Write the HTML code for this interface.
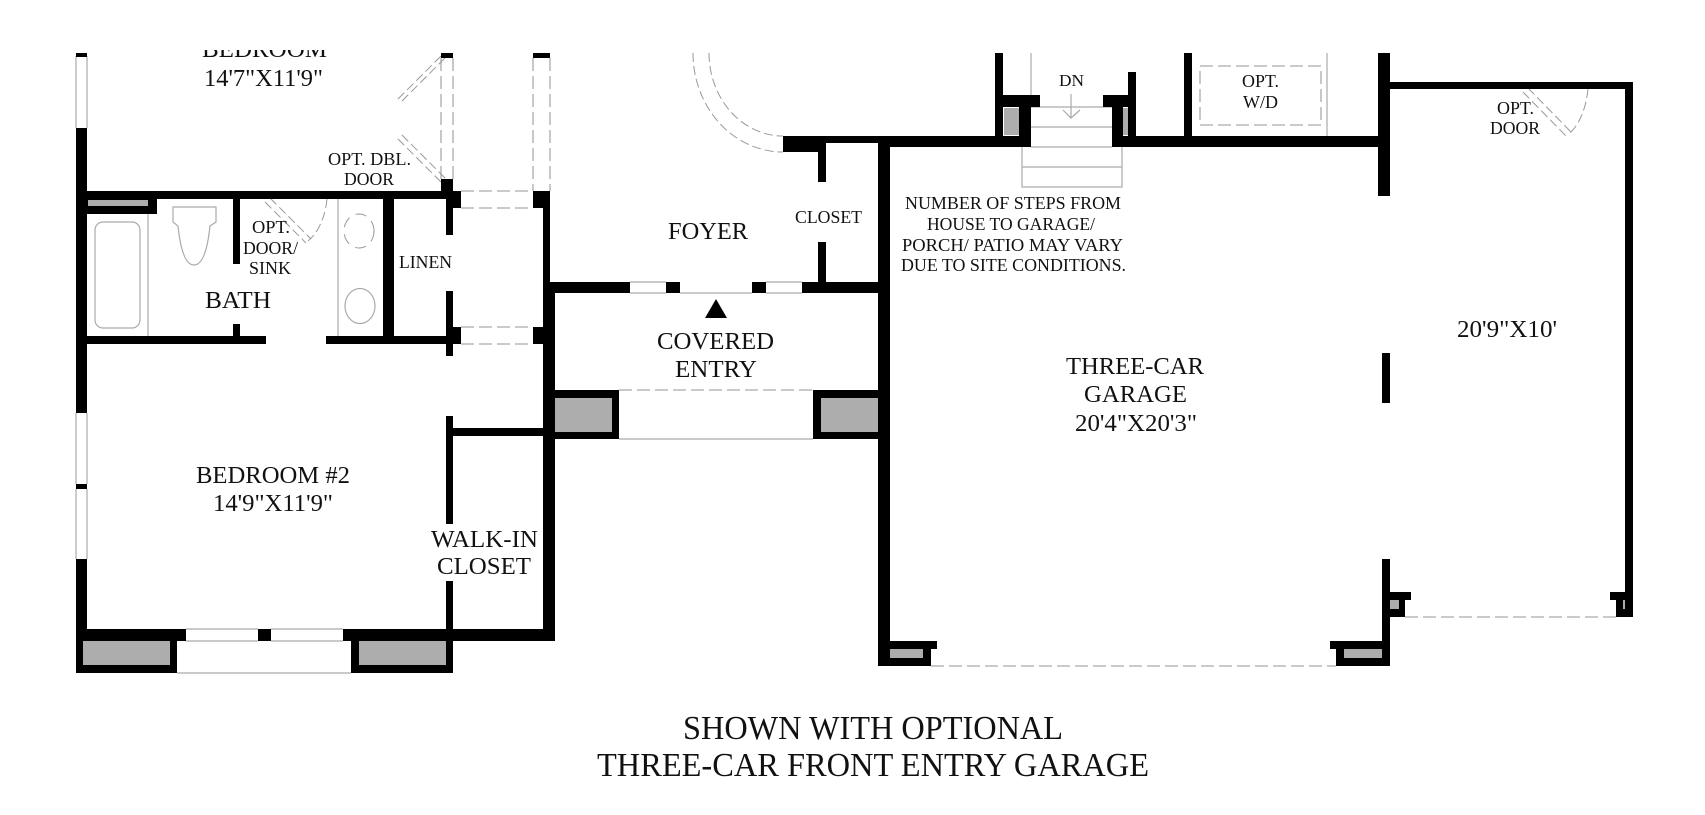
<!DOCTYPE html>
<html>
<head>
<meta charset="utf-8">
<style>
html,body{margin:0;padding:0;background:#fff;width:1705px;height:815px;overflow:hidden}
svg{display:block}
text{font-family:"Liberation Serif",serif;fill:#111}
.g{fill:#adadad}
.l{stroke:#aaa;stroke-width:1.2;fill:none}
.d{stroke:#aaa;stroke-width:1.3;fill:none;stroke-dasharray:13 5}
.s{stroke:#999;stroke-width:1;fill:none;stroke-dasharray:9 4}
</style>
</head>
<body>
<svg width="1705" height="815" viewBox="0 0 1705 815" xmlns="http://www.w3.org/2000/svg">
<rect width="1705" height="815" fill="#fff"/>

<!-- clipped bedroom label -->
<text x="202" y="57" font-size="24" textLength="125" lengthAdjust="spacingAndGlyphs">BEDROOM</text>
<rect x="0" y="0" width="600" height="50" fill="#fff"/>

<!-- thin grey lines -->
<g class="l">
<path d="M76 56V128M87 56V128M76 413V484M87 413V484M76 489V559M87 489V559"/>
<path d="M148 214V336M338 199V336"/>
<path d="M186 629H258M271 629H343M186 641H258M271 641H343M177 673H351"/>
<path d="M630 282H666M630 293H666M766 282H802M766 293H802M680 293H752M619 439H813"/>
<rect x="95" y="222" width="45" height="106" rx="8" ry="8"/>
<path d="M173 207H216V222L210 226C208 245 204 265 194 265C184 265 180 245 178 226L173 222Z"/>
<ellipse cx="360" cy="306" rx="15" ry="17.5"/>
<path d="M1031 53V95M1327 53V136"/>
<path d="M1031 107H1112M1031 127H1112M1031 147H1112M1022 147V187H1122V147M1022 167H1122"/>
<path d="M1071 94V118M1063 110L1071 118L1080 110"/>
<path d="M792 144H818" stroke-width="2"/>
</g>

<!-- dashed lines -->
<g class="d">
<path d="M441 58V179M453 58V179M533 58V191M550 58V191"/>
<path d="M461 191H533M461 208H533M461 327H533M461 344H533"/>
<path d="M619 390H813"/>
<rect x="1200" y="66" width="121" height="59"/>
<path d="M1405 617H1616M931 666H1336"/>
</g>
<g class="s">
<path d="M693 53A90 99 0 0 0 783 152M709 53A74 83 0 0 0 783 136"/>
<ellipse cx="359" cy="231" rx="15" ry="17" stroke-dasharray="11 7"/>
<path d="M327 199C325 218 318 233 308 241M1588 89C1586 108 1580 124 1569 134"/>
<path d="M445 58L401 102M441 56L397 100M445 178L401 134M441 182L397 138"/>
<path d="M270 198L311 239M265 202L306 243M1528 88L1571 132M1523 92L1566 136"/>
</g>

<!-- walls -->
<g fill="#000">
<!-- left wing -->
<rect x="76" y="53" width="11" height="4"/>
<rect x="76" y="128" width="11" height="285"/>
<rect x="76" y="484" width="11" height="5"/>
<rect x="76" y="559" width="11" height="82"/>
<rect x="87" y="191" width="366" height="8"/>
<rect x="87" y="199" width="70" height="15"/>
<rect x="233" y="199" width="7" height="65"/>
<rect x="233" y="324" width="7" height="13"/>
<rect x="87" y="336" width="179" height="8"/>
<rect x="326" y="336" width="127" height="8"/>
<rect x="383" y="199" width="11" height="137"/>
<rect x="441" y="53" width="12" height="5"/>
<rect x="441" y="179" width="12" height="13"/>
<rect x="446" y="191" width="7" height="44"/>
<rect x="446" y="191" width="15" height="17"/>
<rect x="446" y="291" width="7" height="65"/>
<rect x="453" y="327" width="8" height="17"/>
<rect x="533" y="53" width="17" height="5"/>
<rect x="533" y="191" width="17" height="17"/>
<rect x="543" y="191" width="7" height="102"/>
<rect x="533" y="327" width="14" height="17"/>
<rect x="543" y="282" width="12" height="359"/>
<rect x="446" y="416" width="7" height="108"/>
<rect x="446" y="581" width="7" height="60"/>
<rect x="453" y="428" width="90" height="8"/>
<rect x="76" y="629" width="110" height="12"/>
<rect x="258" y="629" width="13" height="12"/>
<rect x="343" y="629" width="212" height="12"/>
<rect x="76" y="641" width="101" height="32"/>
<rect x="351" y="641" width="102" height="32"/>
<!-- entry -->
<rect x="550" y="282" width="80" height="11"/>
<rect x="666" y="282" width="14" height="11"/>
<rect x="752" y="282" width="14" height="11"/>
<rect x="802" y="282" width="78" height="11"/>
<rect x="551" y="390" width="68" height="49"/>
<rect x="813" y="390" width="67" height="49"/>
<rect x="878" y="136" width="12" height="530"/>
<rect x="783" y="136" width="95" height="7"/>
<rect x="783" y="136" width="42" height="16"/>
<rect x="818" y="143" width="8" height="39"/>
<rect x="818" y="242" width="8" height="40"/>
<polygon points="716,299 727,318 705,318"/>
<!-- garage top -->
<rect x="878" y="136" width="153" height="11"/>
<rect x="1112" y="136" width="272" height="11"/>
<rect x="995" y="53" width="8" height="83"/>
<rect x="1003" y="95" width="37" height="12"/>
<rect x="1019" y="107" width="12" height="40"/>
<rect x="1103" y="95" width="27" height="12"/>
<rect x="1112" y="107" width="11" height="40"/>
<rect x="1128" y="72" width="8" height="64"/>
<rect x="1184" y="53" width="8" height="83"/>
<rect x="1378" y="53" width="12" height="143"/>
<rect x="1390" y="82" width="242" height="7"/>
<rect x="1625" y="82" width="8" height="535"/>
<rect x="1382" y="353" width="8" height="50"/>
<rect x="1382" y="559" width="8" height="107"/>
<rect x="1390" y="592" width="21" height="8"/>
<rect x="1390" y="600" width="15" height="17"/>
<rect x="1610" y="592" width="23" height="8"/>
<rect x="1616" y="600" width="17" height="17"/>
<rect x="1330" y="641" width="60" height="8"/>
<rect x="1336" y="649" width="46" height="17"/>
<rect x="889" y="641" width="48" height="8"/>
<rect x="889" y="649" width="42" height="17"/>
</g>

<!-- grey fills -->
<rect class="g" x="88" y="200" width="60" height="6"/>
<rect class="g" x="83" y="641" width="87" height="24"/>
<rect class="g" x="359" y="641" width="87" height="24"/>
<rect class="g" x="555" y="398" width="57" height="34"/>
<rect class="g" x="821" y="398" width="57" height="34"/>
<rect class="g" x="1004" y="108" width="15" height="27"/>
<rect class="g" x="1123" y="108" width="5" height="27"/>
<rect class="g" x="1390" y="600" width="9" height="9"/>
<rect class="g" x="1344" y="649" width="38" height="9"/>
<rect class="g" x="890" y="649" width="33" height="9"/>
<rect class="g" x="1623" y="600" width="2" height="9"/>

<!-- labels -->
<text x="204" y="86" font-size="24" textLength="119" lengthAdjust="spacingAndGlyphs">14'7"X11'9"</text>
<text x="328" y="165" font-size="18" textLength="83" lengthAdjust="spacingAndGlyphs">OPT. DBL.</text>
<text x="344" y="185" font-size="18" textLength="50" lengthAdjust="spacingAndGlyphs">DOOR</text>
<text x="252" y="233" font-size="18" textLength="38" lengthAdjust="spacingAndGlyphs">OPT.</text>
<text x="243" y="254" font-size="18" textLength="55" lengthAdjust="spacingAndGlyphs">DOOR/</text>
<text x="249" y="274" font-size="18" textLength="42" lengthAdjust="spacingAndGlyphs">SINK</text>
<text x="205" y="308" font-size="24" textLength="66" lengthAdjust="spacingAndGlyphs">BATH</text>
<text x="399" y="268" font-size="18" textLength="53" lengthAdjust="spacingAndGlyphs">LINEN</text>
<text x="196" y="483" font-size="24" textLength="154" lengthAdjust="spacingAndGlyphs">BEDROOM #2</text>
<text x="213" y="511" font-size="24" textLength="120" lengthAdjust="spacingAndGlyphs">14'9"X11'9"</text>
<text x="431" y="547" font-size="24" textLength="107" lengthAdjust="spacingAndGlyphs">WALK-IN</text>
<text x="437" y="574" font-size="24" textLength="94" lengthAdjust="spacingAndGlyphs">CLOSET</text>
<text x="668" y="239" font-size="24" textLength="80" lengthAdjust="spacingAndGlyphs">FOYER</text>
<text x="795" y="223" font-size="18" textLength="67" lengthAdjust="spacingAndGlyphs">CLOSET</text>
<text x="657" y="349" font-size="24" textLength="117" lengthAdjust="spacingAndGlyphs">COVERED</text>
<text x="675" y="377" font-size="24" textLength="82" lengthAdjust="spacingAndGlyphs">ENTRY</text>
<text x="1059" y="86" font-size="17" textLength="25" lengthAdjust="spacingAndGlyphs">DN</text>
<text x="905" y="209" font-size="18" textLength="216" lengthAdjust="spacingAndGlyphs">NUMBER OF STEPS FROM</text>
<text x="927" y="230" font-size="18" textLength="168" lengthAdjust="spacingAndGlyphs">HOUSE TO GARAGE/</text>
<text x="902" y="251" font-size="18" textLength="221" lengthAdjust="spacingAndGlyphs">PORCH/ PATIO MAY VARY</text>
<text x="901" y="271" font-size="18" textLength="225" lengthAdjust="spacingAndGlyphs">DUE TO SITE CONDITIONS.</text>
<text x="1242" y="87" font-size="18" textLength="37" lengthAdjust="spacingAndGlyphs">OPT.</text>
<text x="1243" y="108" font-size="18" textLength="35" lengthAdjust="spacingAndGlyphs">W/D</text>
<text x="1497" y="114" font-size="18" textLength="37" lengthAdjust="spacingAndGlyphs">OPT.</text>
<text x="1490" y="134" font-size="18" textLength="50" lengthAdjust="spacingAndGlyphs">DOOR</text>
<text x="1066" y="374" font-size="24" textLength="138" lengthAdjust="spacingAndGlyphs">THREE-CAR</text>
<text x="1084" y="402" font-size="24" textLength="103" lengthAdjust="spacingAndGlyphs">GARAGE</text>
<text x="1075" y="431" font-size="24" textLength="122" lengthAdjust="spacingAndGlyphs">20'4"X20'3"</text>
<text x="1457" y="337" font-size="24" textLength="100" lengthAdjust="spacingAndGlyphs">20'9"X10'</text>
<text x="683" y="739" font-size="34" textLength="380" lengthAdjust="spacingAndGlyphs">SHOWN WITH OPTIONAL</text>
<text x="597" y="776" font-size="34" textLength="552" lengthAdjust="spacingAndGlyphs">THREE-CAR FRONT ENTRY GARAGE</text>
</svg>
</body>
</html>
